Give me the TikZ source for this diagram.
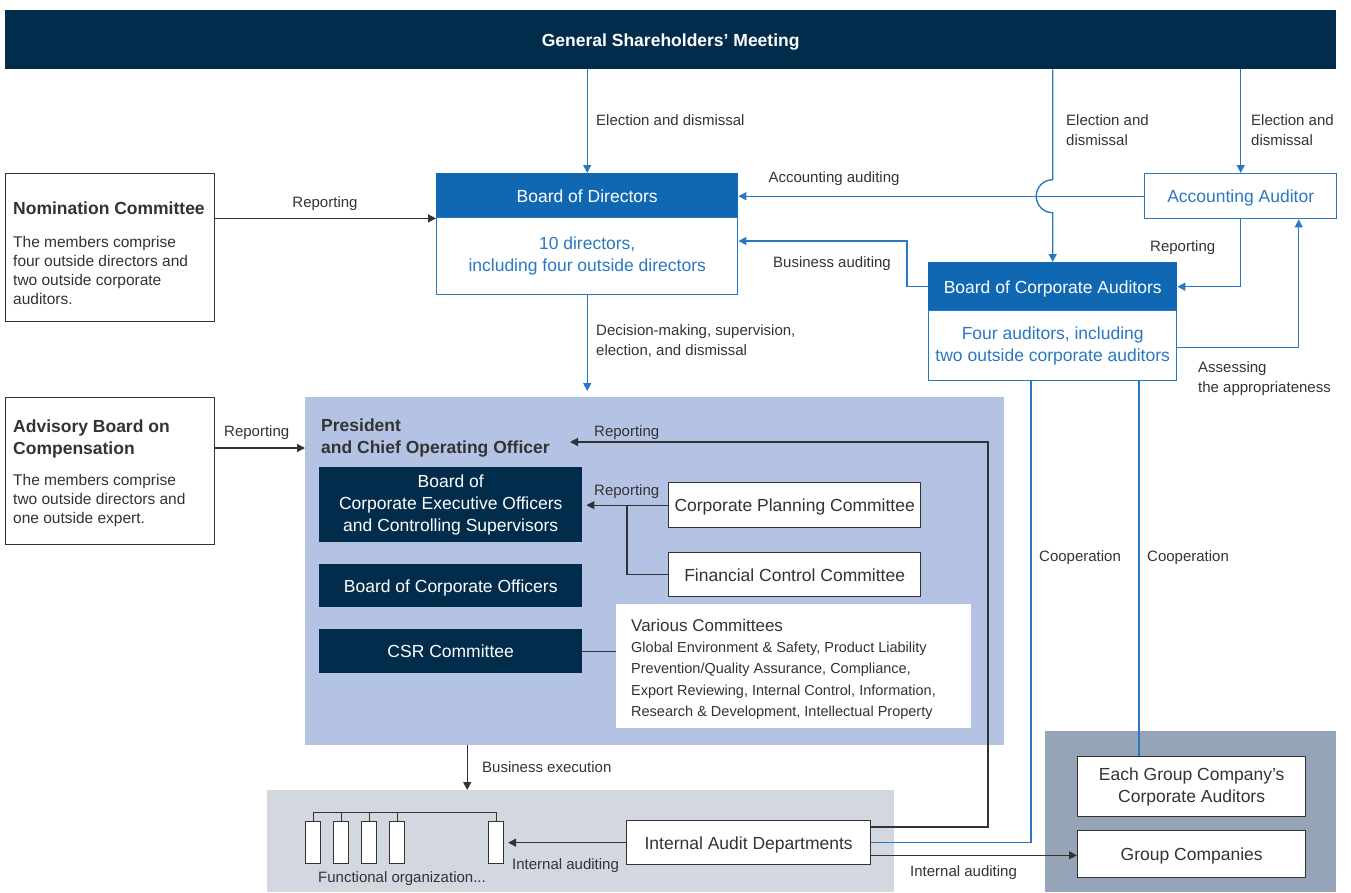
\documentclass[tikz,border=0pt]{standalone}
\usepackage{fontspec}
\setmainfont{Liberation Sans}
\usetikzlibrary{arrows.meta}
\definecolor{navy}{HTML}{022C4B}
\definecolor{hblue}{HTML}{1068B2}
\definecolor{lblue}{HTML}{2A78C2}
\definecolor{presc}{HTML}{B4C3E4}
\definecolor{lgray}{HTML}{D2D7E0}
\definecolor{dgray}{HTML}{95A4B7}
\definecolor{txt}{HTML}{333333}
\tikzset{
  lab/.style={font=\fontsize{15}{20}\selectfont, text=txt, inner sep=0pt, align=left, text depth=0pt},
  boxfont/.style={font=\fontsize{17.5}{22}\selectfont, text depth=0pt},
  multiline/.style={text depth=},
  bline/.style={draw=lblue, line width=1.4pt},
  kline/.style={draw=txt, line width=1.3pt},
  arr/.style={-{Triangle[length=8pt,width=8pt]}},
  blk/.style={draw=txt, line width=1.3pt, fill=white, inner sep=0pt, text=txt, boxfont, align=center, anchor=north west},
  bluebody/.style={draw=lblue, line width=1.4pt, fill=white, inner sep=0pt, text=lblue, boxfont, align=center, anchor=north west},
  bluehead/.style={draw=hblue, line width=1.4pt, fill=hblue, inner sep=0pt, text=white, boxfont, align=center, anchor=north west},
  navybox/.style={fill=navy, inner sep=0pt, text=white, boxfont, align=center, anchor=north west},
  area/.style={inner sep=0pt, anchor=north west},
  title/.style={font=\bfseries\fontsize{17.5}{22}\selectfont, text=txt, inner sep=0pt, align=left, anchor=west, text depth=0pt},
  body/.style={font=\fontsize{15.5}{19}\selectfont, text=txt, inner sep=0pt, align=left, anchor=west, text depth=0pt},
  fo/.style={draw=txt, line width=1.1pt, fill=white, inner sep=0pt, minimum width=15pt, minimum height=42pt, anchor=north west}
}
\begin{document}
\begin{tikzpicture}[x=1pt,y=-1pt]
\useasboundingbox (0,0) rectangle (1351,892);

% background areas
\node[area, fill=presc, minimum width=699pt, minimum height=348pt] (pres) at (305,397) {};
\node[area, fill=lgray, minimum width=627pt, minimum height=102pt] (lowg) at (267,790) {};
\node[area, fill=dgray, minimum width=291pt, minimum height=161pt] (grp) at (1045,731) {};

% banner
\node[area, fill=navy, minimum width=1331pt, minimum height=59pt, text=white, text depth=0pt, font=\bfseries\fontsize{17.5}{21}\selectfont] (gsm) at (5,10) {General Shareholders’ Meeting};

% Board of Directors
\node[bluehead, minimum width=301pt, minimum height=44pt] (bodh) at (436,173) {Board of Directors};
\node[bluebody, multiline, minimum width=301pt, minimum height=77pt] (bodb) at (436,217) {10 directors,\\including four outside directors};

% Accounting Auditor
\node[bluebody, minimum width=192pt, minimum height=45pt] (aa) at (1144,173) {Accounting Auditor};

% Board of Corporate Auditors
\node[bluehead, minimum width=248pt, minimum height=48pt] (bocah) at (928,262) {Board of Corporate Auditors};
\node[bluebody, multiline, minimum width=248pt, minimum height=70pt] (bocab) at (928,310) {Four auditors, including\\two outside corporate auditors};
\coordinate (bocabot) at (928,384);

% Nomination committee
\node[blk, minimum width=209pt, minimum height=148pt] (nom) at (5,173) {};
\node[title] (nomt) at (13,208) {Nomination Committee};
\node[body] (nomb) at (13,270) {The members comprise\\four outside directors and\\two outside corporate\\auditors.};

% Advisory board
\node[blk, minimum width=209pt, minimum height=147pt] (adv) at (5,397) {};
\node[title] (advt) at (13,437) {Advisory Board on\\Compensation};
\node[body] (advb) at (13,499) {The members comprise\\two outside directors and\\one outside expert.};

% President area contents
\node[title] (prest) at (321,436) {President\\and Chief Operating Officer};
\node[navybox, multiline, minimum width=263pt, minimum height=75pt] (bceo) at (319,467) {Board of\\Corporate Executive Officers\\and Controlling Supervisors};
\node[navybox, minimum width=263pt, minimum height=43pt] (bco) at (319,564) {Board of Corporate Officers};
\node[navybox, minimum width=263pt, minimum height=44pt] (csr) at (319,629) {CSR Committee};
\node[blk, minimum width=252pt, minimum height=45pt] (cpc) at (668,482) {Corporate Planning Committee};
\node[blk, minimum width=252pt, minimum height=44pt] (fcc) at (668,552) {Financial Control Committee};
\node[area, fill=white, minimum width=355pt, minimum height=124pt] (various) at (616,604) {};
\node[font=\fontsize{17}{21}\selectfont, text=txt, inner sep=0pt, anchor=west, text depth=0pt] (vt) at (631,625) {Various Committees};
\node[font=\fontsize{14.5}{21.5}\selectfont, text=txt, inner sep=0pt, align=left, anchor=west, text depth=0pt] (vb) at (631,679) {Global Environment \& Safety, Product Liability\\Prevention/Quality Assurance, Compliance,\\Export Reviewing, Internal Control, Information,\\Research \& Development, Intellectual Property};

% lower area
\node[blk, minimum width=244pt, minimum height=44pt] (iad) at (626,820) {Internal Audit Departments};
\node[fo] (fo1) at (305,821) {};
\node[fo] (fo2) at (333,821) {};
\node[fo] (fo3) at (361,821) {};
\node[fo] (fo4) at (389,821) {};
\node[fo] (fo5) at (488,821) {};
\node[lab, anchor=west] (fol) at (318,877) {Functional organization...};
\node[blk, multiline, minimum width=228pt, minimum height=60pt] (egca) at (1077,756) {Each Group Company’s\\Corporate Auditors};
\node[blk, minimum width=228pt, minimum height=47pt] (gc) at (1077,830) {Group Companies};

% ---- connectors ----
% elections
\draw[bline, arr] (gsm.south -| bodh.north) -- (bodh.north);
\draw[bline, arr] (gsm.south -| aa.north) -- (aa.north);
\draw[bline, arr] (aa.west) -- (aa.west -| bodh.east);
\draw[bline, arr] (gsm.south -| bocah.north) -- ([yshift=16.5pt]bocah.north |- aa.west)
   arc[start angle=270, end angle=90, radius=16.5] -- (bocah.north);

% AA -> BoCA reporting, assessing
\draw[bline, arr] (aa.south) |- (bocah.east);
\draw[bline, arr] ([yshift=-2pt]bocab.east) -| ([xshift=58pt]aa.south);

% business auditing
\coordinate (ba) at (907,241);
\draw[bline, arr] (bocah.west) -| (ba) -- (ba -| bodb.east);

% nomination & advisory reporting
\draw[kline, arr] (nom.east |- bodh.south) -- (bodh.south west);
\draw[kline, arr] (adv.east |- 0,448) -- (pres.west |- 0,448);

% decision making
\draw[bline, arr, shorten >=6pt] (bodb.south) -- (bodb.south |- pres.north);

% committees
\draw[kline, arr, shorten >=4pt] (cpc.west) -- (cpc.west -| bceo.east);
\draw[kline] (fcc.west) -| ([xshift=-41pt]cpc.west);
\draw[kline] (csr.east) -- (csr.east -| various.west);

% business execution
\draw[kline, arr] ([xshift=-187.5pt]pres.south) -- ([xshift=-187.5pt]pres.south |- lowg.north);

% functional org bus
\draw[draw=txt, line width=1pt] (fo1.north) -- ++(0,-9) -| (fo5.north);
\draw[draw=txt, line width=1pt] (fo2.north) -- ++(0,-9);
\draw[draw=txt, line width=1pt] (fo3.north) -- ++(0,-9);
\draw[draw=txt, line width=1pt] (fo4.north) -- ++(0,-9);

% internal audit connectors
\coordinate (rp) at (988,442);
\coordinate (rpend) at (570,442);
\draw[kline, arr] ([yshift=-7pt]iad.north east) -| (rp) -- (rpend);
\draw[bline] (iad.east) -| ([xshift=103pt]bocab.south west);
\draw[bline] ([xshift=211pt]bocab.south west) -- ([xshift=211pt]bocab.south west |- egca.north);
\draw[kline, arr] ([yshift=10pt]iad.south east) -- ([yshift=10pt]iad.south east -| gc.west);
\draw[kline, arr, shorten >=4pt] (iad.west) -- (iad.west -| fo5.east);

% ---- labels ----
\node[lab, anchor=west] (l1) at (596,120) {Election and dismissal};
\node[lab, anchor=west] (l2) at (1066,130) {Election and\\dismissal};
\node[lab, anchor=west] (l3) at (1251,130) {Election and\\dismissal};
\node[lab] (l4) at (834,177) {Accounting auditing};
\node[lab] (l5) at (832,262) {Business auditing};
\node[lab] (l6) at (325,202) {Reporting};
\node[lab, anchor=west] (l7) at (1150,246) {Reporting};
\node[lab, anchor=west] (l8) at (1198,377) {Assessing\\the appropriateness};
\node[lab, anchor=west] (l9) at (596,340) {Decision-making, supervision,\\election, and dismissal};
\node[lab, anchor=west] (l10) at (224,431) {Reporting};
\node[lab, anchor=west] (l11) at (594,431) {Reporting};
\node[lab, anchor=west] (l12) at (594,490) {Reporting};
\node[lab, anchor=west] (l13) at (482,767) {Business execution};
\node[lab, anchor=west] (l14) at (512,864) {Internal auditing};
\node[lab, anchor=west] (l15) at (910,871) {Internal auditing};
\node[lab, anchor=west] (l16) at (1039,556) {Cooperation};
\node[lab, anchor=west] (l17) at (1147,556) {Cooperation};
\end{tikzpicture}
\end{document}
